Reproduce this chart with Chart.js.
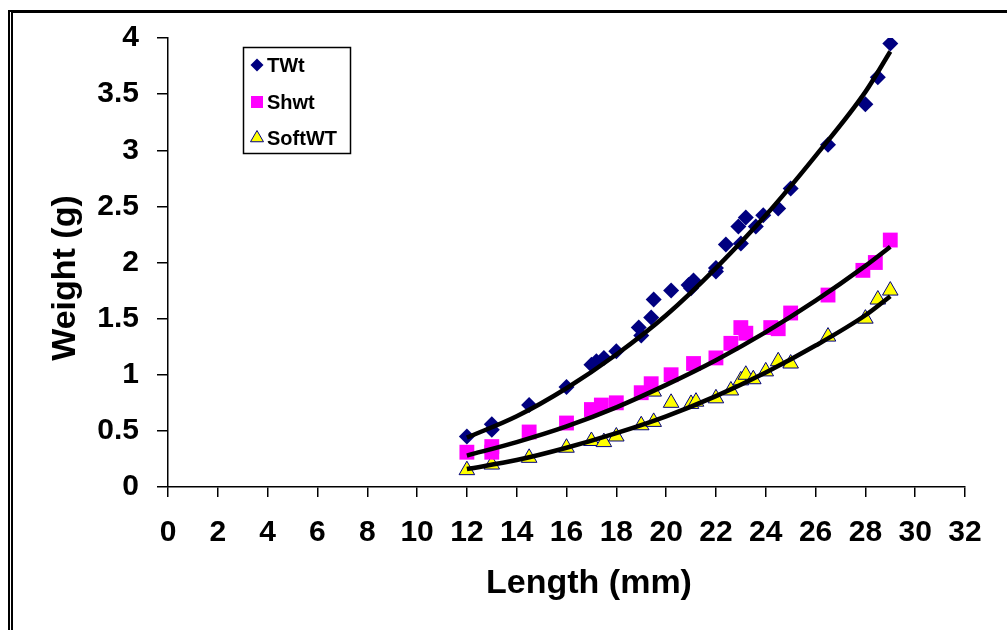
<!DOCTYPE html>
<html lang="en">

<head>
    <title>Weight vs Length</title>
    <script src="https://cdn.jsdelivr.net/npm/chart.js"></script>
    <style>
        body {
            margin: 0;
            background: #fff;
            font-family: Arial, "Liberation Sans", sans-serif;
        }

        #wrap {
            position: relative;
            width: 1007px;
            height: 630px;
            overflow: hidden;
        }

        #frame {
            position: absolute;
            left: 8px;
            top: 10px;
            width: 1100px;
            height: 700px;
            border-top: 3px solid #000;
            border-left: 5px double #000;
        }

        #chart {
            position: absolute;
            left: 0;
            top: 0;
        }
    </style>
</head>

<body>
    <div id="wrap">
        <div id="frame"></div>
        <canvas id="chart" width="1007" height="630"></canvas>
    </div>
    <script>
        // measured points (length mm, weight g)
        const twtLen = [12, 13, 13, 14.5, 16, 17, 17.2, 17.5, 18, 18.9, 19, 19.4, 19.5, 20.2, 20.9, 21, 21.1, 22, 22, 22.4, 23, 22.9, 23.2, 23.6, 23.9, 24.5, 25, 26.5, 28, 28.5, 29];
        const twtWt = [0.45, 0.56, 0.51, 0.73, 0.89, 1.09, 1.12, 1.15, 1.21, 1.42, 1.35, 1.51, 1.67, 1.75, 1.80, 1.77, 1.84, 1.92, 1.95, 2.16, 2.17, 2.32, 2.40, 2.32, 2.42, 2.48, 2.66, 3.05, 3.41, 3.65, 3.95];

        const shwtLen = [12, 13, 13, 14.5, 16, 17, 17.4, 18, 19, 19.4, 20.2, 21.1, 22, 22.6, 23, 23.2, 24.2, 24.5, 25, 26.5, 27.9, 28.4, 29];
        const shwtWt = [0.31, 0.36, 0.31, 0.49, 0.57, 0.69, 0.73, 0.75, 0.84, 0.92, 1.0, 1.1, 1.15, 1.28, 1.42, 1.37, 1.42, 1.41, 1.55, 1.71, 1.93, 2.0, 2.2];

        const softLen = [12, 13, 14.5, 16, 17, 17.5, 18, 19, 19.5, 19.5, 20.2, 21, 21.2, 22, 22.6, 23, 23.2, 23.5, 24, 24.5, 25, 26.5, 28, 28.5, 29];
        const softWt = [0.15, 0.20, 0.26, 0.35, 0.41, 0.40, 0.45, 0.55, 0.58, 0.85, 0.75, 0.74, 0.76, 0.79, 0.86, 0.95, 1.0, 0.96, 1.03, 1.12, 1.10, 1.34, 1.5, 1.67, 1.75];

        // trend lines
        const trendLen = [12, 14, 16, 18, 20, 22, 24, 26, 28, 29];
        const twtTrend = [0.44, 0.63, 0.88, 1.18, 1.53, 1.95, 2.42, 2.95, 3.52, 3.88];
        const shwtTrend = [0.28, 0.40, 0.54, 0.71, 0.91, 1.13, 1.38, 1.66, 1.97, 2.14];
        const softTrend = [0.16, 0.24, 0.35, 0.48, 0.63, 0.81, 1.02, 1.26, 1.53, 1.70];

        const xTicks = [0, 32, 2];
        const yTicks = [0, 4, 0.5];

        const seriesNames = ['TWt', 'Shwt', 'SoftWT'];

        const pts = (xs, ys) => xs.map((x, i) => ({ x: x, y: ys[i] }));
        const font = 'Arial, "Liberation Sans", sans-serif';

        const trend = (ys) => ({
            data: pts(trendLen, ys),
            showLine: true,
            borderColor: '#000',
            borderWidth: 4.5,
            pointRadius: 0,
            tension: 0.4,
            cubicInterpolationMode: 'monotone',
            order: 1
        });

        const legendMarks = [
            { pointStyle: 'rectRot', radius: 6.5, fill: '#000080', stroke: '#000080', borderWidth: 0 },
            { pointStyle: 'rect', radius: 8.5, fill: '#FF00FF', stroke: '#FF00FF', borderWidth: 0 },
            { pointStyle: 'triangle', radius: 7.5, fill: '#FFFF00', stroke: '#000080', borderWidth: 1 }
        ];

        const extras = {
            id: 'extras',
            afterDraw(chart) {
                const ctx = chart.ctx;
                ctx.save();
                ctx.fillStyle = '#000';
                ctx.font = 'bold 34px ' + font;
                ctx.textAlign = 'center';
                ctx.textBaseline = 'alphabetic';
                ctx.fillText('Length (mm)', 589, 593);

                ctx.translate(75, 278);
                ctx.rotate(-Math.PI / 2);
                ctx.fillText('Weight (g)', 0, 0);
                ctx.restore();

                // legend box
                ctx.save();
                ctx.strokeStyle = '#000';
                ctx.lineWidth = 1.5;
                ctx.strokeRect(243.5, 47.5, 107, 106);
                const rows = [65, 102, 138];
                ctx.font = 'bold 20px ' + font;
                ctx.textAlign = 'left';
                ctx.textBaseline = 'middle';
                seriesNames.forEach((name, i) => {
                    const m = legendMarks[i];
                    ctx.fillStyle = m.fill;
                    ctx.strokeStyle = m.stroke;
                    ctx.lineWidth = m.borderWidth;
                    Chart.helpers.drawPoint(ctx, { pointStyle: m.pointStyle, radius: m.radius, rotation: 0, borderWidth: m.borderWidth }, 257, rows[i]);
                    ctx.fillStyle = '#000';
                    ctx.fillText(name, 267, rows[i] + 1);
                });
                ctx.restore();
            }
        };

        new Chart(document.getElementById('chart').getContext('2d'), {
            type: 'scatter',
            data: {
                datasets: [
                    trend(twtTrend),
                    trend(shwtTrend),
                    trend(softTrend),
                    {
                        label: seriesNames[0],
                        data: pts(twtLen, twtWt),
                        pointStyle: 'rectRot',
                        pointRadius: 8,
                        backgroundColor: '#000080',
                        borderColor: '#000080',
                        borderWidth: 0,
                        order: 2
                    },
                    {
                        label: seriesNames[1],
                        data: pts(shwtLen, shwtWt),
                        pointStyle: 'rect',
                        pointRadius: 10.5,
                        backgroundColor: '#FF00FF',
                        borderColor: '#FF00FF',
                        borderWidth: 0,
                        order: 2
                    },
                    {
                        label: seriesNames[2],
                        data: pts(softLen, softWt),
                        pointStyle: 'triangle',
                        pointRadius: 9,
                        backgroundColor: '#FFFF00',
                        borderColor: '#000080',
                        borderWidth: 1,
                        order: 2
                    }
                ]
            },
            options: {
                responsive: false,
                animation: false,
                layout: { padding: { left: 0, right: 42, top: 38, bottom: 0 } },
                plugins: {
                    legend: { display: false },
                    tooltip: { enabled: false }
                },
                scales: {
                    x: {
                        type: 'linear',
                        min: xTicks[0],
                        max: xTicks[1],
                        afterFit: (s) => { s.height = 143; },
                        ticks: {
                            stepSize: xTicks[2],
                            color: '#000',
                            padding: 18,
                            maxRotation: 0,
                            autoSkip: false,
                            font: { family: font, size: 30, weight: 'bold' }
                        },
                        grid: { drawOnChartArea: false, color: '#000', tickLength: 10, lineWidth: 1.5 },
                        border: { color: '#000', width: 1.5 }
                    },
                    y: {
                        type: 'linear',
                        min: yTicks[0],
                        max: yTicks[1],
                        afterFit: (s) => { s.width = 168; },
                        ticks: {
                            stepSize: yTicks[2],
                            color: '#000',
                            padding: 18,
                            callback: (v) => String(v),
                            font: { family: font, size: 30, weight: 'bold' }
                        },
                        grid: { drawOnChartArea: false, color: '#000', tickLength: 11, lineWidth: 1.5 },
                        border: { color: '#000', width: 1.5 }
                    }
                }
            },
            plugins: [extras]
        });
    </script>

</body>

</html>
